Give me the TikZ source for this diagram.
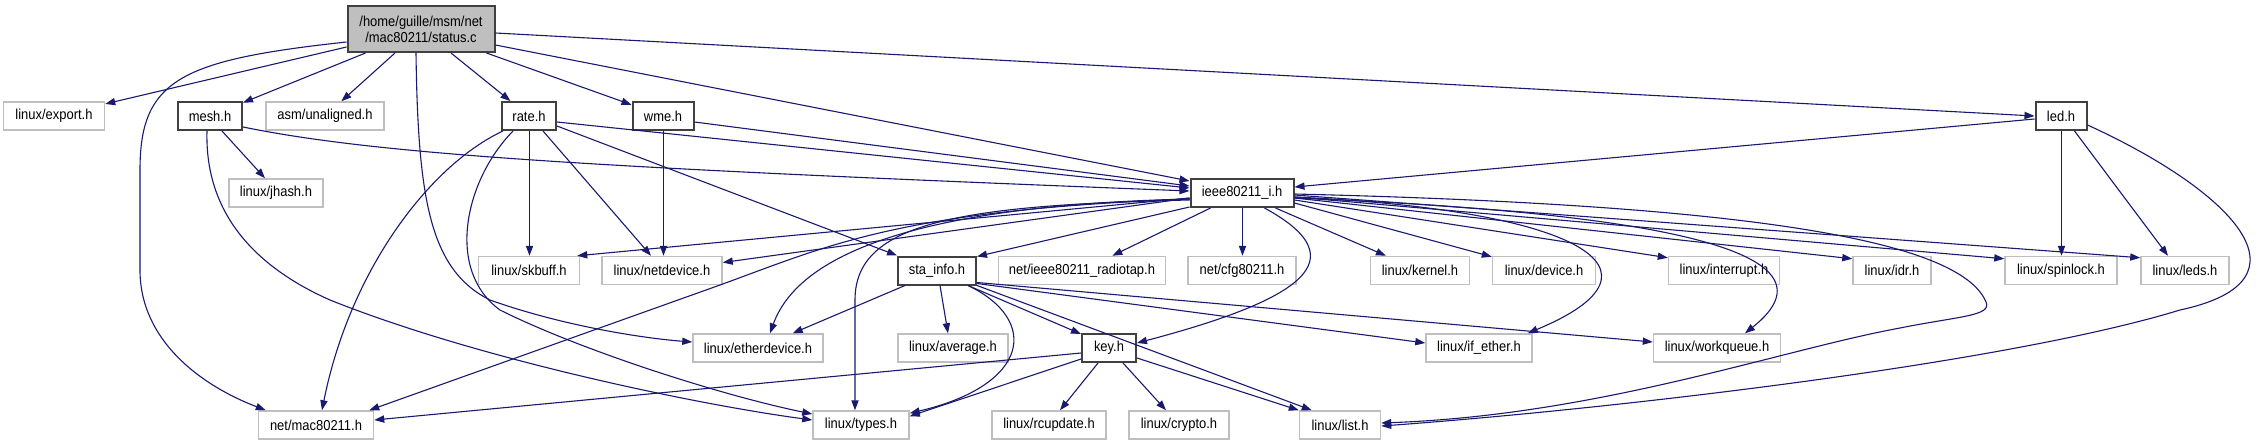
\documentclass[tikz,border=0pt]{standalone}
\usepackage{fontspec}
\setmainfont[FakeStretch=0.9]{Liberation Sans}
\usetikzlibrary{arrows.meta,calc}
\definecolor{edgec}{HTML}{191970}
\definecolor{extc}{HTML}{BFBFBF}
\definecolor{docc}{HTML}{404040}
\definecolor{rootfill}{HTML}{BFBFBF}
\begin{document}
\begin{tikzpicture}[x=0.5pt,y=-0.5pt,
 box/.style={rectangle, fill=white, minimum height=14pt, inner sep=0pt, font=\fontsize{7.2}{8}\selectfont},
 ext/.style={box, draw=extc, line width=0.75pt},
 doc/.style={box, draw=docc, line width=1pt},
 root/.style={box, draw=docc, fill=rootfill, line width=1pt, align=center, minimum height=23pt},
 edge/.style={draw=edgec, line width=0.55pt, -{Triangle[length=5pt,width=3.6pt]}}]
\fill[white] (0,0) rectangle (2260,445);
\useasboundingbox (0,0) rectangle (2260,445);

% row 0
\node[root, minimum width=73.5pt] (status) at (421,29) {/home/guille/msm/net\\/mac80211/status.c};
% row 1
\node[ext, minimum width=50.5pt] (export) at (54,116) {linux/export.h};
\node[doc, minimum width=32pt] (mesh) at (210,116) {mesh.h};
\node[ext, minimum width=59pt] (unaligned) at (325,116) {asm/unaligned.h};
\node[doc, minimum width=27pt] (rate) at (529,116) {rate.h};
\node[doc, minimum width=30.5pt] (wme) at (663,116) {wme.h};
\node[doc, minimum width=25.5pt] (led) at (2061,116) {led.h};
% row 2
\node[ext, minimum width=47pt] (jhash) at (276,193) {linux/jhash.h};
\node[doc, minimum width=51.5pt] (ieee) at (1242,193) {ieee80211\_i.h};
% row 3
\node[ext, minimum width=50.5pt] (skbuff) at (529,270.5) {linux/skbuff.h};
\node[ext, minimum width=60pt] (netdevice) at (662,270.5) {linux/netdevice.h};
\node[doc, minimum width=39pt] (sta) at (937,270.5) {sta\_info.h};
\node[ext, minimum width=83.5pt] (radiotap) at (1082,270.5) {net/ieee80211\_radiotap.h};
\node[ext, minimum width=54pt] (cfg) at (1242,270.5) {net/cfg80211.h};
\node[ext, minimum width=49.5pt] (kernel) at (1420,270.5) {linux/kernel.h};
\node[ext, minimum width=51.5pt] (device) at (1544,270.5) {linux/device.h};
\node[ext, minimum width=55.5pt] (interrupt) at (1724,270.5) {linux/interrupt.h};
\node[ext, minimum width=39pt] (idr) at (1892,270.5) {linux/idr.h};
\node[ext, minimum width=56pt] (spinlock) at (2061,270.5) {linux/spinlock.h};
\node[ext, minimum width=44pt] (leds) at (2185,270.5) {linux/leds.h};
% row 4
\node[ext, minimum width=65pt] (etherdevice) at (758,348) {linux/etherdevice.h};
\node[ext, minimum width=55pt] (average) at (953,348) {linux/average.h};
\node[doc, minimum width=27pt] (key) at (1109,348) {key.h};
\node[ext, minimum width=53pt] (ifether) at (1479,348) {linux/if\_ether.h};
\node[ext, minimum width=63.5pt] (workqueue) at (1717,348) {linux/workqueue.h};
% row 5
\node[ext, minimum width=57.5pt] (mac) at (316,425) {net/mac80211.h};
\node[ext, minimum width=48pt] (types) at (861,425) {linux/types.h};
\node[ext, minimum width=57pt] (rcupdate) at (1049,425) {linux/rcupdate.h};
\node[ext, minimum width=50pt] (crypto) at (1179,425) {linux/crypto.h};
\node[ext, minimum width=40.5pt] (list) at (1340,425) {linux/list.h};

% status.c
\draw[edge] ($(status.west)+(0,18)$) -- (export);
\draw[edge] ($(status.south west)+(19,0)$) -- (mesh);
\draw[edge] ($(status.south)+(-26,0)$) -- (unaligned);
\draw[edge] ($(status.south)+(30,0)$) -- (rate);
\draw[edge] ($(status.south east)+(-9,0)$) -- (wme);
\draw[edge] ($(status.east)+(0,16)$) -- ($(ieee.west)+(0,-12)$);
\draw[edge] ($(status.east)+(0,4)$) -- (led.west);
\draw[edge] ($(status.west)+(0,13)$) .. controls (180,60) and (140,80) .. (140,170) -- (140,270)
  .. controls (140,340) and (200,385) .. ($(mac.north west)+(8,0)$);
\draw[edge] ($(status.south)+(-5,0)$) .. controls (418,200) and (430,270) .. (490,300)
  .. controls (560,325) and (640,338) .. ($(etherdevice.west)+(0,-6)$);

% mesh.h
\draw[edge] ($(mesh.south)+(12,0)$) -- ($(jhash.north)+(-11,0)$);
\draw[edge] ($(mesh.east)+(0,11)$) .. controls (380,155) and (600,168) .. ($(ieee.west)+(0,-2)$);
\draw[edge] ($(mesh.south)+(-3,0)$) .. controls (205,200) and (240,260) .. (330,300)
  .. controls (480,360) and (700,405) .. ($(types.west)+(0,-5)$);

% rate.h
\draw[edge] ($(rate.east)+(0,6)$) -- ($(ieee.west)+(0,-5)$);
\draw[edge] ($(rate.south)+(0.5,0)$) -- ($(skbuff.north)+(0.5,0)$);
\draw[edge] ($(rate.south east)+(-14,0)$) -- ($(netdevice.north)+(-11,0)$);
\draw[edge] ($(rate.east)+(0,10)$) -- (sta.north west);
\draw[edge] ($(rate.south west)+(2,0)$) .. controls (430,165) and (350,270) .. ($(mac.north)+(6,0)$);
\draw[edge] ($(rate.south west)+(12,0)$) .. controls (465,180) and (445,270) .. (500,310)
  .. controls (580,350) and (720,395) .. ($(types.west)+(0,-11)$);

% wme.h
\draw[edge] ($(wme.south)+(0.5,0)$) -- ($(netdevice.north)+(1.5,0)$);
\draw[edge] ($(wme.east)+(0,6)$) -- ($(ieee.west)+(0,-7)$);

% led.h
\draw[edge] ($(led.west)+(0,3)$) -- ($(ieee.east)+(0,-6)$);
\draw[edge] ($(led.south)+(0.5,0)$) -- ($(spinlock.north)+(0.5,0)$);
\draw[edge] ($(led.south east)+(-13,0)$) -- ($(leds.north)+(-17,0)$);
\draw[edge] ($(led.east)+(0,9)$) .. controls (2230,190) and (2320,280) .. (2180,310)
  .. controls (2000,365) and (1600,410) .. ($(list.east)+(0,1)$);

% ieee80211_i.h
\draw[edge] ($(ieee.west)+(0,5)$) -- ($(skbuff.north east)+(-3,0)$);
\draw[edge] ($(ieee.west)+(0,5)$) -- ($(netdevice.east)+(0,-8)$);
\draw[edge] ($(ieee.west)+(0,6)$) .. controls (930,205) and (800,250) .. ($(etherdevice.north)+(12,0)$);
\draw[edge] ($(ieee.west)+(0,6)$) .. controls (900,210) and (830,245) .. (720,285) -- ($(mac.north east)+(-5,0)$);
\draw[edge] ($(ieee.west)+(0,7)$) .. controls (950,205) and (855,225) .. (855,300) -- ($(types.north)+(-6,0)$);
\draw[edge] ($(ieee.south west)+(0,-1)$) -- ($(sta.north east)+(0,1)$);
\draw[edge] ($(ieee.south west)+(21,0)$) -- (radiotap);
\draw[edge] ($(ieee.south)+(0.5,0)$) -- ($(cfg.north)+(0.5,0)$);
\draw[edge] ($(ieee.south east)+(-30,0)$) .. controls (1360,260) and (1300,300) .. ($(key.east)+(0,-5)$);
\draw[edge] ($(ieee.south east)+(-19,0)$) -- (kernel);
\draw[edge] ($(ieee.east)+(0,10)$) -- ($(device.north west)+(0,1)$);
\draw[edge] ($(ieee.east)+(0,7)$) -- ($(interrupt.north west)+(0,2)$);
\draw[edge] ($(ieee.east)+(0,5)$) -- ($(idr.north west)+(0,3)$);
\draw[edge] ($(ieee.east)+(0,4)$) -- ($(spinlock.north west)+(0,3)$);
\draw[edge] ($(ieee.east)+(0,2)$) -- ($(leds.north west)+(0,2)$);
\draw[edge] ($(ieee.east)+(0,4)$) .. controls (1580,210) and (1680,270) .. ($(ifether.north east)+(-5,0)$);
\draw[edge] ($(ieee.east)+(0,5)$) .. controls (1650,212) and (1850,250) .. ($(workqueue.north)+(28,0)$);
\draw[edge] ($(ieee.east)+(0,1)$) .. controls (1750,205) and (1960,240) .. (1986,302)
  .. controls (1992,316) and (1960,316) .. (1900,328)
  .. controls (1780,350) and (1600,415) .. ($(list.east)+(0,-2)$);

% sta_info.h
\draw[edge] ($(sta.south west)+(8,0)$) -- (etherdevice);
\draw[edge] ($(sta.south)+(3,0)$) -- ($(average.north)+(-5,0)$);
\draw[edge] ($(sta.south east)+(-9,0)$) .. controls (1040,320) and (1030,385) .. ($(types.north east)+(0,3)$);
\draw[edge] ($(sta.south east)+(-9,0)$) -- ($(key.north west)+(0,1)$);
\draw[edge] (sta.south east) -- ($(list.north west)+(13,0)$);
\draw[edge] ($(sta.east)+(0,13)$) -- ($(ifether.west)+(0,-5)$);
\draw[edge] ($(sta.east)+(0,12)$) -- ($(workqueue.west)+(0,-6)$);

% key.h
\draw[edge] ($(key.west)+(0,5)$) -- ($(mac.east)+(0,-5)$);
\draw[edge] ($(key.south west)+(0,-4)$) -- ($(types.north east)+(0,6)$);
\draw[edge] ($(key.south)+(-11,0)$) -- ($(rcupdate.north)+(11,0)$);
\draw[edge] ($(key.south)+(14,0)$) -- ($(crypto.north)+(-13,0)$);
\draw[edge] ($(key.east)+(0,10)$) -- (list.north west);
\end{tikzpicture}
\end{document}
